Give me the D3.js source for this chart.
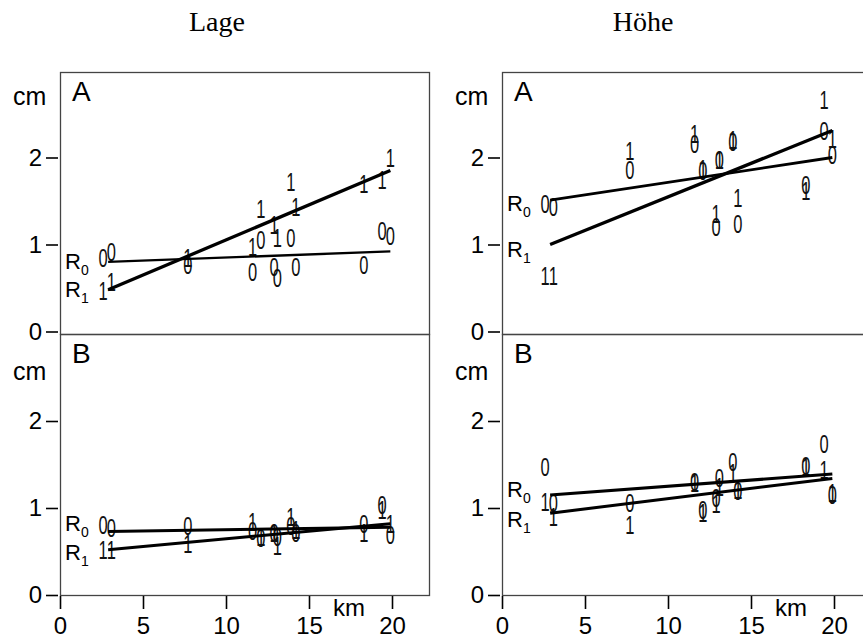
<!DOCTYPE html>
<html>
<head>
<meta charset="utf-8">
<script src="https://cdn.jsdelivr.net/npm/d3@7"></script>
<style>
body { margin: 0; background: #fff; }
svg { display: block; }
</style>
</head>
<body>
<div id="chart"></div>
<script>

/********* data *********/
const xKm = [2.6, 3.1, 7.7, 11.6, 12.1, 12.9, 13.1, 13.9, 14.2, 18.3, 19.4, 19.9];
const xTicks = [0, 5, 10, 15, 20];
const yTicks = [0, 1, 2];
const lineKm = [2.9, 19.9];
const titles = ["Lage", "Höhe"];

// symbol "0" = R0, symbol "1" = R1
const lageA0 = [0.84, 0.91, 0.76, 0.68, 1.05, 0.74, 0.61, 1.07, 0.74, 0.77, 1.15, 1.10];
const lageA1 = [0.47, 0.57, 0.85, 0.97, 1.41, 1.22, 1.07, 1.72, 1.43, 1.70, 1.74, 1.99];
const hoeheA0 = [1.46, 1.43, 1.86, 2.16, 1.85, 1.20, 1.97, 2.18, 1.24, 1.68, 2.30, 2.03];
const hoeheA1 = [0.64, 0.64, 2.08, 2.27, 1.87, 1.35, 1.97, 2.20, 1.54, 1.62, 2.66, 2.21];
const lageB0 = [0.80, 0.77, 0.79, 0.74, 0.65, 0.71, 0.67, 0.79, 0.71, 0.82, 1.03, 0.69];
const lageB1 = [0.52, 0.52, 0.59, 0.84, 0.67, 0.71, 0.56, 0.90, 0.75, 0.71, 0.98, 0.82];
const hoeheB0 = [1.47, 1.06, 1.06, 1.30, 0.98, 1.11, 1.34, 1.53, 1.19, 1.48, 1.74, 1.15];
const hoeheB1 = [1.07, 0.90, 0.80, 1.29, 0.94, 1.05, 1.24, 1.40, 1.21, 1.47, 1.44, 1.17];

// regression lines, value at lineKm[0] and lineKm[1]
const lageAR0 = [0.80, 0.92], lageAR1 = [0.48, 1.85];
const hoeheAR0 = [1.51, 2.00], hoeheAR1 = [1.00, 2.31];
const lageBR0 = [0.73, 0.78], lageBR1 = [0.52, 0.82];
const hoeheBR0 = [1.15, 1.39], hoeheBR1 = [0.94, 1.34];

/********* layout *********/
const W = 863, H = 641;
const colLeft = [60, 502];
const plotW = 369;
const rows = [
    {label: "A", top: 72, bottom: 334, zero: 331.5, cmY: 105, labY: 101},
    {label: "B", top: 334, bottom: 595, zero: 595, cmY: 380, labY: 363}
];
const panels = [
    {col: 0, row: 0, p0: lageA0, p1: lageA1, r0: lageAR0, r1: lageAR1, lab0: 0.72, lab1: 0.40, w0: 2.3, w1: 3.3},
    {col: 1, row: 0, p0: hoeheA0, p1: hoeheA1, r0: hoeheAR0, r1: hoeheAR1, lab0: 1.38, lab1: 0.86, w0: 2.8, w1: 3.3},
    {col: 0, row: 1, p0: lageB0, p1: lageB1, r0: lageBR0, r1: lageBR1, lab0: 0.73, lab1: 0.40, w0: 3, w1: 3},
    {col: 1, row: 1, p0: hoeheB0, p1: hoeheB1, r0: hoeheBR0, r1: hoeheBR1, lab0: 1.13, lab1: 0.78, w0: 3, w1: 3}
];

const sans = "'Liberation Sans', Arial, Helvetica, sans-serif";

const svg = d3.select("#chart")
    .append("svg")
    .attr("width", W)
    .attr("height", H);

svg.append("rect").attr("width", W).attr("height", H).attr("fill", "#fff");

// column titles
titles.forEach(function (t, i) {
    svg.append("text")
        .attr("x", [217, 643][i])
        .attr("y", 31)
        .attr("text-anchor", "middle")
        .attr("font-family", "'Liberation Serif', 'Times New Roman', serif")
        .attr("font-size", 28)
        .text(t);
});

panels.forEach(function (p) {
    const row = rows[p.row];
    const x0 = colLeft[p.col];
    const x = d3.scaleLinear().domain([0, plotW / 16.6]).range([x0, x0 + plotW]);
    const y = d3.scaleLinear().domain([0, 3]).range([row.zero, row.zero - 3 * 87]);
    const g = svg.append("g");

    // frame
    g.append("rect")
        .attr("x", x0 + 0.5)
        .attr("y", row.top + 0.5)
        .attr("width", plotW)
        .attr("height", row.bottom - row.top)
        .attr("fill", "none")
        .attr("stroke", "#444")
        .attr("stroke-width", 1.3);

    // y axis
    const ay = g.append("g")
        .attr("transform", "translate(" + (x0 - 2) + ",0)")
        .call(d3.axisLeft(y).tickValues(yTicks).tickFormat(d3.format("d")).tickSize(12).tickPadding(4));
    ay.select(".domain").remove();
    ay.selectAll("line").attr("stroke", "#000").attr("stroke-width", 1.6);
    ay.selectAll("text").attr("font-family", sans).attr("font-size", 24).attr("fill", "#000");

    // x axis on lower row
    if (p.row === 1) {
        const ax = g.append("g")
            .attr("transform", "translate(0," + (row.bottom + 1) + ")")
            .call(d3.axisBottom(x).tickValues(xTicks).tickFormat(d3.format("d")).tickSize(13).tickPadding(8));
        ax.select(".domain").remove();
        ax.selectAll("line").attr("stroke", "#000").attr("stroke-width", 1.6);
        ax.selectAll("text").attr("font-family", sans).attr("font-size", 24).attr("fill", "#000");

        g.append("text")
            .attr("x", x0 + 273)
            .attr("y", 616)
            .attr("font-family", sans)
            .attr("font-size", 24)
            .text("km");
    }

    g.append("text")
        .attr("x", x0 - 47)
        .attr("y", row.cmY)
        .attr("font-family", sans)
        .attr("font-size", 25)
        .text("cm");

    g.append("text")
        .attr("x", x0 + 12)
        .attr("y", row.labY)
        .attr("font-family", sans)
        .attr("font-size", 28)
        .text(row.label);

    // plotting symbols
    function symbols(vals, ch) {
        g.selectAll(null)
            .data(vals)
            .enter().append("text")
            .attr("transform", function (d, i) {
                return "translate(" + x(xKm[i]) + "," + y(d) + ") scale(0.66,1)";
            })
            .attr("dy", "0.36em")
            .attr("text-anchor", "middle")
            .attr("font-family", sans)
            .attr("font-size", 25)
            .attr("fill", "#111")
            .text(ch);
    }
    symbols(p.p0, "0");
    symbols(p.p1, "1");

    // fitted lines
    const line = d3.line()
        .x(function (d, i) { return x(lineKm[i]); })
        .y(function (d) { return y(d); });
    g.append("path").attr("d", line(p.r0)).attr("fill", "none")
        .attr("stroke", "#000").attr("stroke-width", p.w0);
    g.append("path").attr("d", line(p.r1)).attr("fill", "none")
        .attr("stroke", "#000").attr("stroke-width", p.w1);

    // R0 / R1 labels
    [[p.lab0, "0"], [p.lab1, "1"]].forEach(function (l) {
        const t = g.append("text")
            .attr("x", x0 + 5)
            .attr("y", y(l[0]))
            .attr("font-family", sans)
            .attr("font-size", 22)
            .text("R");
        t.append("tspan")
            .attr("font-size", 14)
            .attr("dy", 6)
            .text(l[1]);
    });
});

</script>
</body>
</html>
